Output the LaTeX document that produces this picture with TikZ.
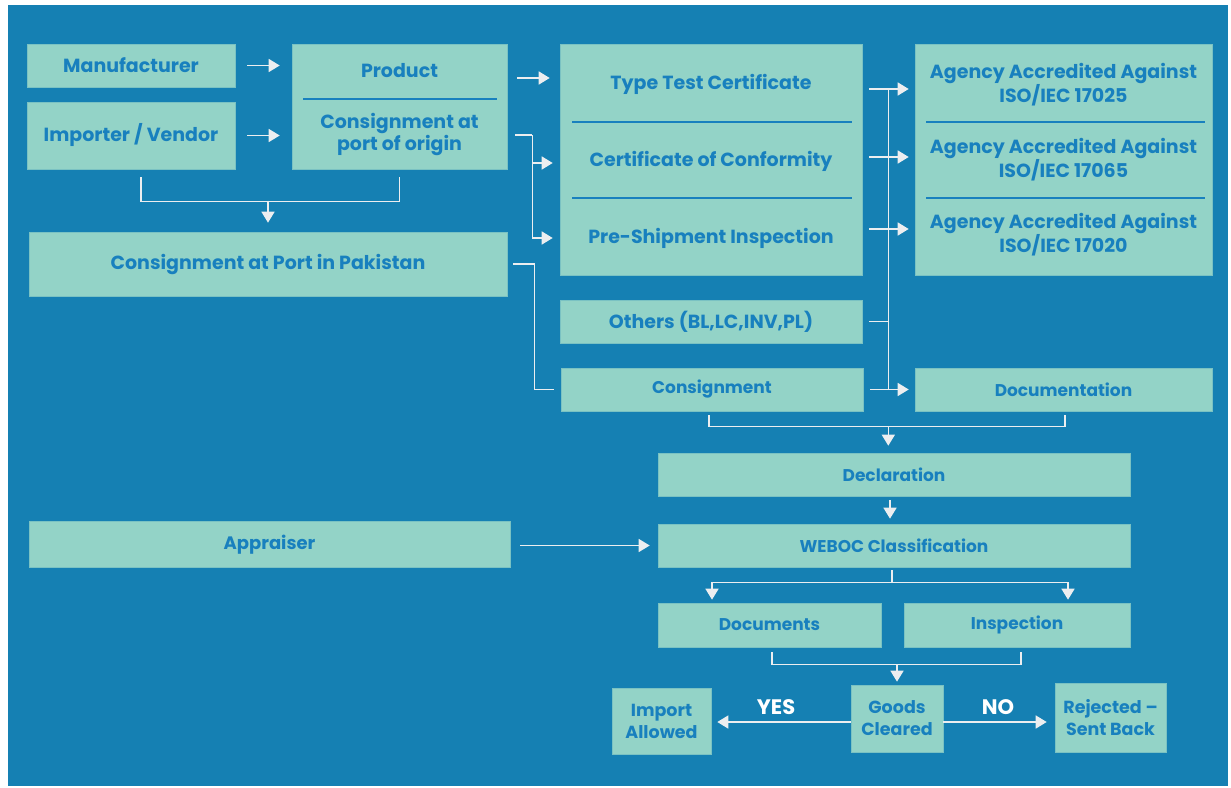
\documentclass[tikz,border=0pt]{standalone}
\usepackage{fontspec}
\setmainfont{Poppins}
\usetikzlibrary{arrows.meta,calc}
\definecolor{bg}{RGB}{21,128,179}
\definecolor{boxc}{RGB}{147,211,199}
\definecolor{txt}{RGB}{24,128,190}
\definecolor{ln}{RGB}{236,238,240}
\tikzset{
 box/.style={fill=boxc, draw=boxc!80!bg, line width=0.6pt, inner sep=0pt, align=center,
   text=txt, font=\fontsize{17}{22}\selectfont\bfseries},
 big/.style={font=\fontsize{19}{23}\selectfont\bfseries},
 lbl/.style={text=txt, font=\fontsize{19}{23}\selectfont\bfseries, align=center, inner sep=0pt},
 divl/.style={draw=txt, line width=1.2pt},
 line/.style={draw=ln, line width=1.5pt},
 arr/.style={line, -{Triangle[length=11pt,width=13pt]}},
 yn/.style={text=white, font=\fontsize{21}{24}\selectfont\bfseries, inner sep=0pt},
}
\begin{document}
\begin{tikzpicture}[x=1pt,y=-1pt]
\useasboundingbox (0,0) rectangle (1231,787);
\fill[white] (0,0) rectangle (1231,787);
\fill[bg] (8,5) rectangle (1228,786);

% left column
\node[box, big, minimum width=208pt, minimum height=43pt] (man) at (131,65.5) {Manufacturer};
\node[box, big, minimum width=208pt, minimum height=67pt] (imp) at (131,135.5) {Importer / Vendor};
\node[box, minimum width=215pt, minimum height=125pt] (prod) at (399.5,106.5) {};
\draw[divl] (303,99) -- (497,99);
\node[lbl] (prt) at (399.5,71) {Product};
\node[lbl, font=\fontsize{19}{22}\selectfont\bfseries] (coo) at (399.5,135) {Consignment at\\port of origin};
\node[box, big, minimum width=478pt, minimum height=64pt] (cpp) at (268,264) {Consignment at Port in Pakistan};
\node[box, font=\fontsize{18}{22}\selectfont\bfseries, minimum width=481pt, minimum height=46pt] (appr) at (269.5,544.5) {Appraiser};

% middle column
\node[box, minimum width=302pt, minimum height=231pt] (cert) at (711,159.5) {};
\draw[divl] (572,122) -- (852,122);
\draw[divl] (572,198) -- (852,198);
\node[lbl] (tt) at (711,84) {Type Test Certificate};
\node[lbl] (coc) at (711,161) {Certificate of Conformity};
\node[lbl] (psi) at (711,238) {Pre-Shipment Inspection};
\node[box, big, minimum width=302pt, minimum height=43pt] (oth) at (711,321.5) {Others (BL,LC,INV,PL)};
\node[box, minimum width=302pt, minimum height=43pt] (cons) at (712,389.5) {Consignment};

% right column
\node[box, minimum width=297pt, minimum height=231pt] (ag) at (1063.5,159.5) {};
\draw[divl] (926,122) -- (1205,122);
\draw[divl] (926,198) -- (1205,198);
\node[lbl, font=\fontsize{19}{24}\selectfont\bfseries] (ag1) at (1063.5,85) {Agency Accredited Against\\ISO/IEC 17025};
\node[lbl, font=\fontsize{19}{24}\selectfont\bfseries] (ag2) at (1063.5,160) {Agency Accredited Against\\ISO/IEC 17065};
\node[lbl, font=\fontsize{19}{24}\selectfont\bfseries] (ag3) at (1063.5,235) {Agency Accredited Against\\ISO/IEC 17020};
\node[box, minimum width=297pt, minimum height=43pt] (docn) at (1063.5,389.5) {Documentation};

% lower flow
\node[box, minimum width=472pt, minimum height=43pt] (decl) at (894,474.5) {Declaration};
\node[box, minimum width=472pt, minimum height=43pt] (weboc) at (894,545.5) {WEBOC Classification};
\node[box, minimum width=223pt, minimum height=44pt] (docs) at (769.5,625) {Documents};
\node[box, minimum width=226pt, minimum height=44pt] (insp) at (1017,625) {Inspection};
\node[box, font=\fontsize{17.5}{22}\selectfont\bfseries, minimum width=92pt, minimum height=67pt] (goods) at (897,718.5) {Goods\\Cleared};
\node[box, font=\fontsize{17.5}{22}\selectfont\bfseries, minimum width=99pt, minimum height=66pt] (ia) at (661.5,721) {Import\\Allowed};
\node[box, font=\fontsize{17.5}{22}\selectfont\bfseries, minimum width=111pt, minimum height=69pt] (rej) at (1110.5,717.5) {Rejected –\\Sent Back};

% connectors: top left
\draw[arr] ([xshift=12pt]man.east) -- ([xshift=-12pt]man.east -| prod.west);
\draw[arr] ([xshift=12pt]imp.east) -- ([xshift=-12pt]imp.east -| prod.west);
\draw[line] ([xshift=10pt,yshift=-8pt]imp.south) -- ++(0,24) -| ([yshift=-8pt]prod.south);
\draw[arr] ([yshift=31pt]cpp.north) -- ([yshift=9pt]cpp.north);

\draw[arr] ([xshift=10pt,yshift=6pt]prod.east |- tt) -- ([xshift=-10pt,yshift=6pt]cert.west |- tt);
\draw[line] ([xshift=8pt]prod.east |- coo) -- ++(17,0) coordinate (j1);
\draw[arr] (j1) |- ([xshift=-7pt]cert.west |- psi);
\draw[arr] ([yshift=-2pt]j1 |- coc) -- ([xshift=-7pt,yshift=-2pt]cert.west |- coc);
\draw[line] ([xshift=6pt]cpp.east) -- ++(21,0) |- ([xshift=-7pt]cons.west);

% right bus
\coordinate (b1) at ([xshift=26pt,yshift=-4pt]cert.east |- ag1);
\coordinate (b5) at ([xshift=26pt]cert.east |- cons);
\draw[line] (b1) -- (b5);
\draw[arr] ([xshift=7pt]cert.east |- b1) -- ([xshift=-6pt]ag.west |- b1);
\draw[arr] ([xshift=7pt,yshift=3pt]cert.east |- ag2) -- ([xshift=-6pt,yshift=3pt]ag.west |- ag2);
\draw[arr] ([xshift=7pt,yshift=6pt]cert.east |- ag3) -- ([xshift=-6pt,yshift=6pt]ag.west |- ag3);
\draw[line] ([xshift=7pt]oth.east) -- (oth.east -| b1);
\draw[arr] ([xshift=7pt]cons.east) -- ([xshift=-6pt]docn.west);

% to declaration
\draw[line] ([xshift=-3pt,yshift=-4pt]cons.south) -- ++(0,11) -| ([xshift=1.5pt,yshift=-4pt]docn.south);
\coordinate (j2) at ([yshift=-15pt]cons.south -| b1);
\draw[arr] (j2) -- ([yshift=7pt]decl.north -| j2);
\draw[arr] ([xshift=-4pt,yshift=-4pt]decl.south) -- ([xshift=-4pt,yshift=5pt]weboc.north);
\draw[arr] ([xshift=10pt]appr.east |- weboc.west) -- ([xshift=-8pt]weboc.west);

% WEBOC split
\draw[line] ([xshift=-2pt,yshift=-3pt]weboc.south) -- ++(0,12) coordinate (j3);
\draw[arr] (j3) -| ([xshift=-57.5pt,yshift=3pt]docs.north);
\draw[arr] (j3) -| ([xshift=51pt,yshift=3pt]insp.north);

% merge to goods
\draw[line] ([xshift=2.5pt,yshift=-5pt]docs.south) -- ++(0,12) -| ([xshift=4pt,yshift=-5pt]insp.south);
\draw[arr] ([yshift=-17pt]docs.south -| goods.north) -- ([yshift=3pt]goods.north);

% decision
\draw[arr] ([yshift=-3.5pt]goods.west) -- ([xshift=6pt,yshift=-3.5pt]goods.west -| ia.east);
\draw[arr] ([yshift=-3.5pt]goods.east) -- ([xshift=-8pt,yshift=-3.5pt]goods.east -| rej.west);
\node[yn] (yes) at (776,707) {YES};
\node[yn] (no) at (998,707) {NO};
\end{tikzpicture}
\end{document}
